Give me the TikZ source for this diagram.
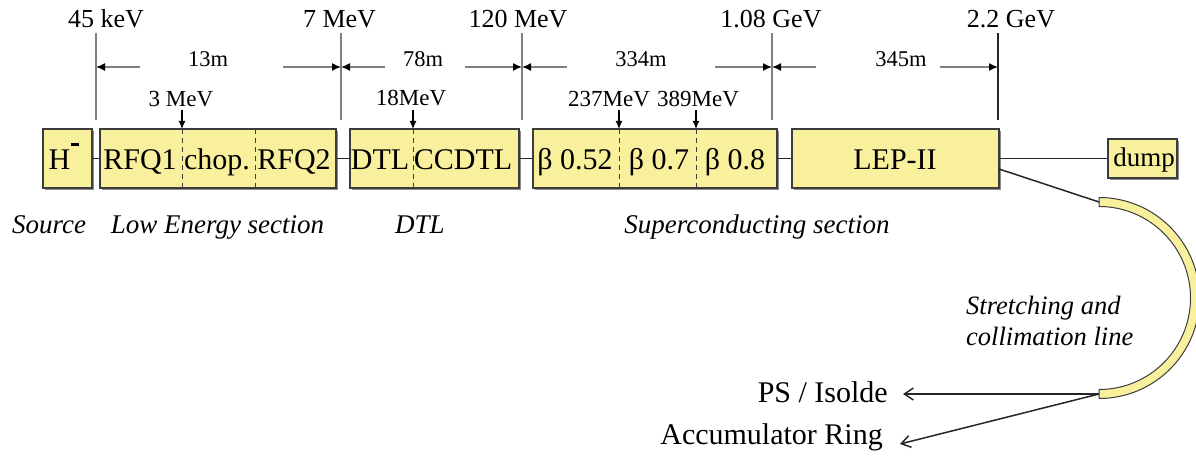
\documentclass[tikz,border=0pt]{standalone}
\usepackage{fontspec}
\setmainfont{Liberation Serif}
\usetikzlibrary{arrows.meta,shadows}
\definecolor{boxfill}{RGB}{248,240,156}
\definecolor{boxline}{RGB}{60,60,60}
\definecolor{shadowgray}{RGB}{140,140,140}
\definecolor{linegray}{RGB}{128,128,128}
\begin{document}
\begin{tikzpicture}[x=1pt,y=-1pt,
  box/.style={draw=boxline, fill=boxfill, line width=1.4pt, inner sep=0pt, minimum height=59pt,
    drop shadow={shadow xshift=1.6pt, shadow yshift=-1.6pt, fill=shadowgray, opacity=1}},
  boxtext/.style={font=\fontsize{30}{32}\selectfont, inner sep=0pt, anchor=base},
  elabel/.style={font=\fontsize{26}{28}\selectfont, inner sep=0pt, anchor=base},
  dlabel/.style={font=\fontsize{22.5}{24}\selectfont, inner sep=0pt, anchor=base},
  slabel/.style={font=\fontsize{23}{25}\selectfont, inner sep=0pt, anchor=base},
  seclabel/.style={font=\fontsize{27}{29}\selectfont\itshape, inner sep=0pt, anchor=base},
  outlabel/.style={font=\fontsize{30}{32}\selectfont, inner ysep=0pt, anchor=base east},
  eline/.style={draw=linegray, line width=1.5pt},
  dimarrow/.style={draw=linegray, line width=1.5pt, -{Latex[length=9pt,width=8pt,color=black]}},
  downarrow/.style={draw=black, line width=1.2pt, -{Latex[length=8pt,width=7pt]}},
  divider/.style={draw=boxline, line width=1pt, dash pattern=on 5pt off 4pt},
  link/.style={draw=black!85, line width=1.5pt},
  outarrow/.style={draw=black!85, line width=1.5pt, -{Straight Barb[length=9pt,width=12pt]}},
]
\useasboundingbox (0,0) rectangle (1196,462);

% ---- boxes ----
\node[box, minimum width=49pt]  (H)    at (67.5,158.5) {};
\node[box, minimum width=236pt] (RFQ)  at (218,158.5) {};
\node[box, minimum width=169pt] (DTL)  at (434.5,158.5) {};
\node[box, minimum width=244pt] (SC)   at (655,158.5) {};
\node[box, minimum width=207pt] (LEP)  at (895.5,158.5) {};
\node[box, minimum width=69pt, minimum height=39pt, line width=1.2pt] (dump) at (1142.5,158.5) {};

% dividers
\coordinate (c1t) at (182,129);   \coordinate (c1b) at (182,188);
\coordinate (c2t) at (255,129);   \coordinate (c2b) at (255,188);
\coordinate (c3t) at (413,129);   \coordinate (c3b) at (413,188);
\coordinate (c4t) at (619,129);   \coordinate (c4b) at (619,188);
\coordinate (c5t) at (696,129);   \coordinate (c5b) at (696,188);
\foreach \i in {1,...,5} { \draw[divider] (c\i t) -- (c\i b); }

% box texts
\node[boxtext] (tH)    at (64,170) {H\kern1pt\raisebox{24pt}{\rule{8pt}{2.5pt}}};
\node[boxtext] (tRFQ1) at (140,170) {RFQ1};
\node[boxtext] (tchop) at (217,170) {chop.};
\node[boxtext] (tRFQ2) at (294,170) {RFQ2};
\node[boxtext] (tDTL)  at (380,170) {DTL};
\node[boxtext] (tCC)   at (463,170) {CCDTL};
\node[boxtext] (tb1)   at (575,170) {β 0.52};
\node[boxtext] (tb2)   at (659,170) {β 0.7};
\node[boxtext] (tb3)   at (735,170) {β 0.8};
\node[boxtext] (tLEP)  at (895,170) {LEP-II};
\node[boxtext, font=\fontsize{27}{29}\selectfont] (tdump) at (1144,167) {dump};

% links between boxes
\draw[link] (H.east) -- (RFQ.west);
\draw[link] (RFQ.east) -- (DTL.west);
\draw[link] (DTL.east) -- (SC.west);
\draw[link] (SC.east) -- (LEP.west);
\draw[link] (LEP.east) -- (dump.west);

% ---- energy marks ----
\node[elabel] (E1) at (106,28) {45 keV};
\node[elabel] (E2) at (339.5,28) {7 MeV};
\node[elabel] (E3) at (518,28) {120 MeV};
\node[elabel] (E4) at (771,28) {1.08 GeV};
\node[elabel] (E5) at (1011,28) {2.2 GeV};
\coordinate (v1t) at (96,33);  \coordinate (v1b) at (96,120);  \coordinate (v1m) at (96,67);
\coordinate (v2t) at (341,33); \coordinate (v2b) at (341,120); \coordinate (v2m) at (341,67);
\coordinate (v3t) at (522,33); \coordinate (v3b) at (522,120); \coordinate (v3m) at (522,67);
\coordinate (v4t) at (772,33); \coordinate (v4b) at (772,120); \coordinate (v4m) at (772,67);
\coordinate (v5t) at (998,33); \coordinate (v5b) at (998,120); \coordinate (v5m) at (998,67);
\foreach \i in {1,...,4} { \draw[eline] (v\i t) -- (v\i b); }
\draw[eline, draw=black!85] (v5t) -- (v5b);

% ---- lengths ----
\node[dlabel] (L1) at (208,67) {13m};
\node[dlabel] (L2) at (423,67) {78m};
\node[dlabel] (L3) at (641,67) {334m};
\node[dlabel] (L4) at (901,67) {345m};
\coordinate (a1l) at (140,67); \coordinate (a1r) at (283,67);
\coordinate (a2l) at (385,67); \coordinate (a2r) at (465,67);
\coordinate (a3l) at (567,67); \coordinate (a3r) at (715,67);
\coordinate (a4l) at (816,67); \coordinate (a4r) at (940,67);
\draw[dimarrow] (a1l) -- (v1m);
\draw[dimarrow] (a1r) -- (v2m);
\draw[dimarrow] (a2l) -- (v2m);
\draw[dimarrow] (a2r) -- (v3m);
\draw[dimarrow] (a3l) -- (v3m);
\draw[dimarrow] (a3r) -- (v4m);
\draw[dimarrow] (a4l) -- (v4m);
\draw[dimarrow] (a4r) -- (v5m);

% ---- intermediate energies ----
\node[slabel] (m1) at (181,107) {3 MeV};
\node[slabel] (m2) at (411,106) {18MeV};
\node[slabel] (m3) at (609,107) {237MeV};
\node[slabel] (m4) at (698,107) {389MeV};
\coordinate (s1) at (182,110);
\coordinate (s3) at (413,110);
\coordinate (s4) at (619,110);
\coordinate (s5) at (696,110);
\draw[downarrow] (s1) -- (c1t);
\draw[downarrow] (s3) -- (c3t);
\draw[downarrow] (s4) -- (c4t);
\draw[downarrow] (s5) -- (c5t);

% ---- section labels ----
\node[seclabel] (S1) at (49,234) {Source};
\node[seclabel] (S2) at (217.5,234) {Low Energy section};
\node[seclabel] (S3) at (420,234) {DTL};
\node[seclabel] (S4) at (757,234) {Superconducting section};

% ---- stretching line ----
\filldraw[fill=boxfill, draw=boxline, line width=1pt]
  (1099,197.5) arc[start angle=-90, end angle=90, radius=100.5]
  -- (1099,389.5) arc[start angle=90, end angle=-90, radius=91.5] -- cycle;
\coordinate (lepout) at (999,169);
\coordinate (arctop) at (1099,202);
\coordinate (arcbot) at (1099,394);
\draw[link] (lepout) -- (arctop);
\node[font=\fontsize{26.5}{31}\selectfont\itshape, align=left, inner sep=0pt, anchor=north west]
  (SL) at (966,296) {Stretching and\\collimation line};

% ---- outputs ----
\node[outlabel, inner xsep=15pt] (ps) at (903,402) {PS / Isolde};
\node[outlabel, inner xsep=17pt] (acc) at (900,444) {Accumulator Ring};
\draw[outarrow] (arcbot) -- (arcbot -| ps.east);
\draw[outarrow] (arcbot) -- (acc.base east);
\end{tikzpicture}
\end{document}
